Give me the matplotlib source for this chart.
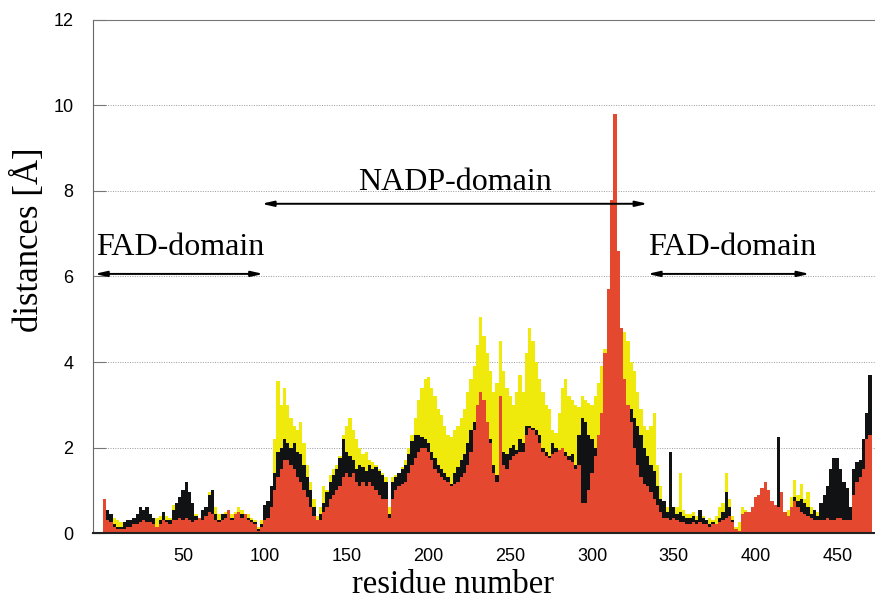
import numpy as np
import matplotlib
matplotlib.use("Agg")
import matplotlib.pyplot as plt

# residue distances, read in pairs of residues (start residue of each pair)
res_start = np.arange(1, 471, 2)

yellow_vals = [
    0.5, 0.45, 0.4, 0.35, 0.3, 0.25, 0.2, 0.2, 0.25, 0.25,
    0.3, 0.35, 0.4, 0.35, 0.3, 0.3, 0.35, 0.4, 0.35, 0.4,
    0.35, 0.65, 0.55, 0.6, 0.7, 0.75, 0.7, 0.6, 0.45, 0.35,
    0.5, 0.55, 0.95, 0.9, 0.6, 0.45, 0.45, 0.5, 0.45, 0.45,
    0.5, 0.6, 0.55, 0.45, 0.45, 0.35, 0.3, 0.15, 0.3, 0.35,
    0.5, 1.1, 2.2, 3.55, 3.0, 3.4, 3.0, 2.7, 2.5, 2.4,
    2.6, 2.1, 1.6, 1.2, 0.8, 0.4, 0.6, 1.1, 1.0, 1.35,
    1.5, 1.6, 1.8, 2.3, 2.5, 2.7, 2.4, 2.2, 2.0, 1.85,
    1.9, 1.7, 1.65, 1.6, 1.5, 1.4, 1.3, 0.6, 1.3, 1.35,
    1.4, 1.55, 1.7, 2.0, 2.3, 2.7, 3.1, 3.4, 3.6, 3.65,
    3.4, 3.2, 2.9, 2.75, 2.5, 2.3, 2.25, 2.4, 2.5, 2.7,
    2.9, 3.3, 3.6, 3.9, 4.4, 5.05, 4.6, 4.2, 3.8, 3.3,
    3.5, 4.5, 3.8, 3.4, 3.2, 3.0, 3.3, 3.7, 3.3, 4.2,
    4.8, 4.5, 4.0, 3.6, 3.3, 3.0, 2.9, 2.4, 2.35, 2.8,
    3.4, 3.6, 3.2, 3.1, 3.0, 2.95, 3.2, 3.1, 3.05, 3.0,
    3.2, 3.5, 3.9, 4.3, 4.5, 4.6, 4.5, 4.4, 4.4, 4.7,
    4.5, 4.0, 3.8, 3.3, 2.9, 2.5, 2.4, 2.5, 2.8, 1.6,
    1.1, 0.75, 0.6, 0.6, 0.5, 0.6, 1.4, 0.55, 0.45, 0.45,
    0.5, 0.4, 0.45, 0.4, 0.3, 0.35, 0.3, 0.4, 0.6, 0.7,
    1.4, 0.8, 0.4, 0.15, 0.25, 0.6, 0.55, 0.45, 0.5, 0.55,
    0.6, 0.8, 0.9, 0.8, 0.7, 0.6, 0.55, 0.5, 0.5, 0.55,
    0.85, 1.25, 0.9, 1.15, 0.8, 0.95, 0.6, 0.5, 0.5, 0.6,
    0.7, 0.8, 0.9, 0.9, 0.8, 0.75, 0.7, 0.7, 0.6, 0.9,
    1.1, 1.2, 1.5, 1.9, 2.0,
]

black_vals = [
    0.6, 0.55, 0.45, 0.2, 0.15, 0.15, 0.25, 0.3, 0.3, 0.35,
    0.45, 0.6, 0.55, 0.6, 0.45, 0.35, 0.15, 0.3, 0.5, 0.3,
    0.3, 0.55, 0.7, 0.85, 1.0, 1.2, 0.95, 0.7, 0.4, 0.3,
    0.55, 0.6, 0.9, 1.0, 0.45, 0.3, 0.45, 0.45, 0.4, 0.35,
    0.35, 0.45, 0.45, 0.4, 0.35, 0.3, 0.25, 0.1, 0.2, 0.65,
    0.75, 1.1, 1.4, 1.9, 2.0, 2.2, 2.1, 2.0, 2.1, 1.9,
    1.85, 1.6, 1.3, 1.0, 0.6, 0.25, 0.45, 0.7, 0.95, 1.2,
    1.35, 1.5, 1.75, 2.2, 1.9, 1.8, 1.7, 1.5, 1.6, 1.55,
    1.45, 1.6, 1.5, 1.55, 1.45, 1.35, 1.2, 0.45, 1.2, 1.3,
    1.4, 1.5, 1.6, 1.85, 2.15, 2.3, 2.3, 2.25, 2.2, 2.1,
    1.9, 1.75, 1.6, 1.5, 1.4, 1.3, 1.15, 1.4, 1.55, 1.7,
    1.85, 2.1, 2.4, 2.6, 2.75, 2.7, 2.6, 2.5, 2.2, 1.6,
    1.35, 2.0, 1.9, 1.85, 2.0, 2.05, 1.95, 2.2, 2.1, 2.5,
    2.5, 2.45, 2.4, 2.3, 2.0, 1.9, 1.8, 2.1, 2.0, 1.95,
    2.0, 1.9, 1.8, 1.85, 1.6, 2.3, 2.7, 2.6, 2.3, 2.2,
    2.0, 1.6, 1.4, 1.7, 2.0, 2.2, 2.4, 2.5, 2.7, 2.9,
    3.0, 2.9, 2.7, 2.5, 2.3, 2.0, 1.8, 1.6, 1.45, 1.1,
    0.8, 0.75, 0.5, 1.9, 0.6, 0.45, 0.5, 0.4, 0.35, 0.35,
    0.4, 0.3, 0.55, 0.35, 0.3, 0.2, 0.25, 0.2, 0.35, 0.5,
    0.95, 0.6, 0.3, 0.1, 0.05, 0.3, 0.3, 0.4, 0.45, 0.5,
    0.55, 0.75, 0.8, 0.7, 0.6, 0.5, 2.25, 0.4, 0.35, 0.4,
    0.55, 0.85, 0.75, 0.8, 0.7, 0.6, 0.45, 0.55, 0.4, 0.7,
    0.9, 1.1, 1.5, 1.75, 1.75, 1.5, 1.2, 1.05, 0.6, 1.5,
    1.65, 1.7, 2.2, 2.8, 3.7,
]

red_vals = [
    0.8, 0.3, 0.25, 0.15, 0.1, 0.1, 0.1, 0.15, 0.15, 0.2,
    0.2, 0.25, 0.3, 0.25, 0.25, 0.2, 0.15, 0.2, 0.3, 0.25,
    0.2, 0.3, 0.3, 0.35, 0.3, 0.35, 0.3, 0.25, 0.3, 0.35,
    0.3, 0.4, 0.5, 0.45, 0.3, 0.25, 0.3, 0.35, 0.55, 0.3,
    0.45, 0.5, 0.35, 0.45, 0.3, 0.25, 0.2, 0.05, 0.15, 0.3,
    0.35, 0.6, 1.0, 1.3, 1.5, 1.7, 1.7, 1.6, 1.5, 1.3,
    1.2, 1.0, 0.85, 0.6, 0.4, 0.3, 0.3, 0.5, 0.6, 0.8,
    0.9, 1.0, 1.1, 1.3, 1.4, 1.3, 1.4, 1.2, 1.1, 1.2,
    1.1, 1.2, 1.1, 1.0, 0.9, 0.8, 0.8, 0.35, 0.8, 1.0,
    1.1, 1.15, 1.2, 1.4, 1.6, 1.75, 1.9, 2.0, 2.0, 1.9,
    1.7, 1.5, 1.4, 1.3, 1.25, 1.2, 1.1, 1.15, 1.2, 1.3,
    1.4, 1.6, 1.9, 2.4, 3.0, 3.3, 3.1, 2.6, 2.1, 1.4,
    1.2, 3.2, 1.6, 1.5, 1.7, 1.8, 1.85, 1.9, 1.9, 2.3,
    2.45, 2.4, 2.3, 2.1, 1.9, 1.8, 1.75, 1.85, 1.9, 1.95,
    2.0, 1.8, 1.7, 1.65, 1.5, 1.6, 0.7, 0.7, 1.0, 1.4,
    1.8, 2.3, 2.8, 4.2, 5.7, 7.8, 9.8, 6.6, 4.8, 3.6,
    3.0, 2.6, 2.0, 1.6, 1.3, 1.15, 1.1, 0.95, 0.8, 0.65,
    0.5, 0.35, 0.35, 0.3, 0.35, 0.3, 0.25, 0.25, 0.2, 0.2,
    0.25, 0.2, 0.25, 0.2, 0.2, 0.15, 0.2, 0.2, 0.25, 0.3,
    0.35, 0.4, 0.25, 0.1, 0.05, 0.45, 0.5, 0.5, 0.6, 0.85,
    0.9, 1.05, 1.2, 1.0, 0.75, 0.65, 0.6, 0.95, 0.5, 0.4,
    0.6, 0.75, 0.6, 0.5, 0.45, 0.4, 0.35, 0.3, 0.3, 0.3,
    0.3, 0.35, 0.3, 0.3, 0.35, 0.35, 0.3, 0.3, 0.3, 0.9,
    1.2, 1.3, 1.5, 2.2, 2.3,
]

edges = np.append(res_start, res_start[-1] + 2)

fig = plt.figure(figsize=(8.75, 6.03), dpi=100)
ax = fig.add_axes([0.106, 0.116, 0.894, 0.851])

# yellow at the back, then black, red in front
ax.stairs(yellow_vals, edges, fill=True, color="#EFEA0C", lw=0)
ax.stairs(black_vals, edges, fill=True, color="#111214", lw=0)
ax.stairs(red_vals, edges, fill=True, color="#E4492F", lw=0)

ax.set_xlim(-5.2, 473)
ax.set_ylim(0, 12)
ax.set_xticks(np.arange(50, 451, 50))
ax.set_yticks(np.arange(0, 13, 2))
ax.yaxis.grid(True, linestyle=(0, (1, 1.5)), color="#999999", lw=0.7)
ax.set_axisbelow(True)

for lab in ax.get_xticklabels() + ax.get_yticklabels():
    lab.set_family("Liberation Sans")
ax.tick_params(axis="x", direction="in", length=7, color="#555555", labelsize=13, pad=11)
ax.tick_params(axis="y", direction="in", length=9, color="#777777", labelsize=13, pad=14)

ax.spines["right"].set_visible(False)
ax.spines["left"].set_color("#666666")
ax.spines["top"].set_color("#777777")
ax.spines["bottom"].set_color("#222222")
ax.spines["bottom"].set_linewidth(1.5)

ax.set_xlabel("residue number", family="Liberation Serif", fontsize=23.5)
ax.set_ylabel("distances [Å]", family="Liberation Serif", fontsize=25)
ax.xaxis.set_label_coords(0.46, -0.072)
ax.yaxis.set_label_coords(-0.06, 0.571)

# domain labels and arrows
arrow_kw = dict(arrowstyle="<|-|>,head_length=0.7,head_width=0.16", color="black", lw=1.4,
                shrinkA=0, shrinkB=0)
ax.annotate("", xy=(98, 7.7), xytext=(334, 7.7), arrowprops=arrow_kw)
ax.annotate("", xy=(-4, 6.06), xytext=(99, 6.06), arrowprops=arrow_kw)
ax.annotate("", xy=(334, 6.06), xytext=(433, 6.06), arrowprops=arrow_kw)
ax.text(216, 8.2, "NADP-domain", family="Liberation Serif", fontsize=23, ha="center", va="center")
ax.text(-3, 6.67, "FAD-domain", family="Liberation Serif", fontsize=23, ha="left", va="center")
ax.text(334, 6.67, "FAD-domain", family="Liberation Serif", fontsize=23, ha="left", va="center")

fig.savefig("out.png", dpi=100)
